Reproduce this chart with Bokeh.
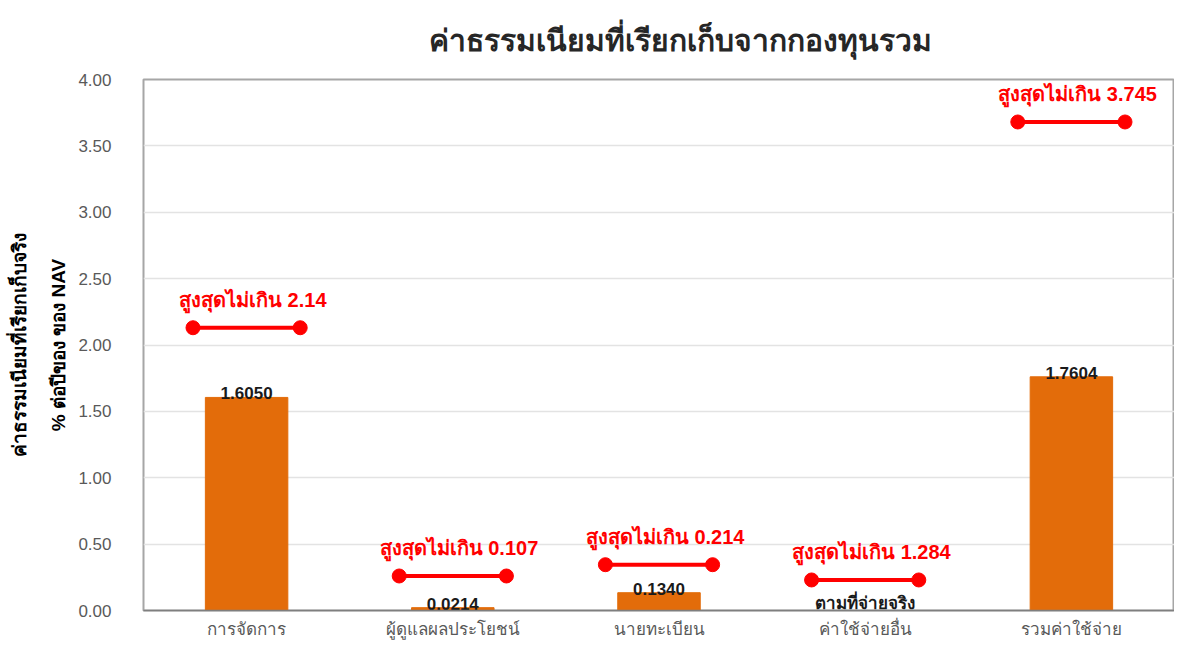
from bokeh.plotting import figure
from bokeh.models import ColumnDataSource, LinearAxis, SingleIntervalTicker, FixedTicker, NumeralTickFormatter, Range1d
from bokeh.transform import dodge
from bokeh.core.properties import value
from bokeh.embed import file_html
from bokeh.resources import INLINE

# ---- data ----
categories = ["การจัดการ", "ผู้ดูแลผลประโยชน์", "นายทะเบียน", "ค่าใช้จ่ายอื่น", "รวมค่าใช้จ่าย"]
actual_fee = [1.6050, 0.0214, 0.1340, 0.0, 1.7604]
actual_text = ["1.6050", "0.0214", "0.1340", "ตามที่จ่ายจริง", "1.7604"]
max_fee = [2.14, 0.107, 0.214, 1.284, 3.745]
max_marker_level = [2.13, 0.26, 0.345, 0.23, 3.68]
max_prefix = "สูงสุดไม่เกิน"

title_text = "ค่าธรรมเนียมที่เรียกเก็บจากกองทุนรวม"
ylabel_line1 = "ค่าธรรมเนียมที่เรียกเก็บจริง"
ylabel_line2 = "% ต่อปีของ ของ NAV"

FONT = "Liberation Sans"
ORANGE = "#E36C0A"
RED = "#FF0000"

src = ColumnDataSource(dict(
    cat=categories,
    actual=actual_fee,
    actual_text=actual_text,
    level=max_marker_level,
    max_text=[f"{max_prefix} {v}" for v in max_fee],
))

p = figure(x_range=categories, y_range=Range1d(0, 4.0),
           width=1174, height=641, output_backend="svg", toolbar_location=None,
           min_border_left=143, min_border_right=0, min_border_top=79, min_border_bottom=28)

p.title.text = title_text
p.title.text_font = FONT
p.title.text_font_style = "bold"
p.title.text_font_size = "30px"
p.title.text_color = "#262626"
p.title.align = "left"
p.title.offset = 285
p.title.vertical_align = "top"
p.title.standoff = 42

p.vbar(x="cat", top="actual", width=0.4, source=src, fill_color=ORANGE, line_color=ORANGE)

p.segment(x0=dodge("cat", -0.26, range=p.x_range), x1=dodge("cat", 0.26, range=p.x_range),
          y0="level", y1="level", source=src, line_color=RED, line_width=4)
p.scatter(x=dodge("cat", -0.26, range=p.x_range), y="level", source=src, size=14,
          fill_color=RED, line_color=RED)
p.scatter(x=dodge("cat", 0.26, range=p.x_range), y="level", source=src, size=14,
          fill_color=RED, line_color=RED)

p.text(x=dodge("cat", 0.03, range=p.x_range), y="level", text="max_text", source=src,
       text_color=RED, text_font=value(FONT), text_font_style="bold", text_font_size="20px",
       text_align="center", text_baseline="middle", y_offset=-28)

p.text(x="cat", y="actual", text="actual_text", source=src,
       text_color="#1a1a1a", text_font=value(FONT), text_font_style="bold", text_font_size="17px",
       text_align="center", text_baseline="bottom", y_offset=2)

# axes
p.yaxis.ticker = SingleIntervalTicker(interval=0.5)
p.yaxis.formatter = NumeralTickFormatter(format="0.00")
p.yaxis.major_label_text_font = FONT
p.yaxis.major_label_text_font_size = "17px"
p.yaxis.major_label_text_color = "#595959"
p.yaxis.major_tick_line_color = None
p.yaxis.minor_tick_line_color = None
p.yaxis.axis_line_color = None
p.yaxis.major_label_standoff = 26
p.yaxis.axis_label = ylabel_line2
p.yaxis.axis_label_text_font = FONT
p.yaxis.axis_label_text_font_style = "bold"
p.yaxis.axis_label_text_font_size = "19px"
p.yaxis.axis_label_text_color = "#000000"
p.yaxis.axis_label_standoff = 6

outer = LinearAxis(axis_label=ylabel_line1, ticker=FixedTicker(ticks=[]))
outer.major_tick_line_color = None
outer.minor_tick_line_color = None
outer.axis_line_color = None
outer.major_label_standoff = 0
outer.axis_label_text_font = FONT
outer.axis_label_text_font_style = "bold"
outer.axis_label_text_font_size = "19px"
outer.axis_label_text_color = "#000000"
outer.axis_label_standoff = 16
p.add_layout(outer, "left")

p.xaxis.major_label_text_font = FONT
p.xaxis.major_label_text_font_size = "17px"
p.xaxis.major_label_text_color = "#595959"
p.xaxis.major_tick_line_color = None
p.xaxis.axis_line_color = "#7f7f7f"
p.xaxis.axis_line_width = 1.5
p.xaxis.major_label_standoff = 3

p.xgrid.grid_line_color = None
p.ygrid.grid_line_color = "#e3e3e3"
p.ygrid.grid_line_width = 1.5

p.outline_line_color = "#a6a6a6"
p.outline_line_width = 2
p.background_fill_color = "white"
p.border_fill_color = "white"

open("out.html", "w").write(file_html(p, INLINE))
